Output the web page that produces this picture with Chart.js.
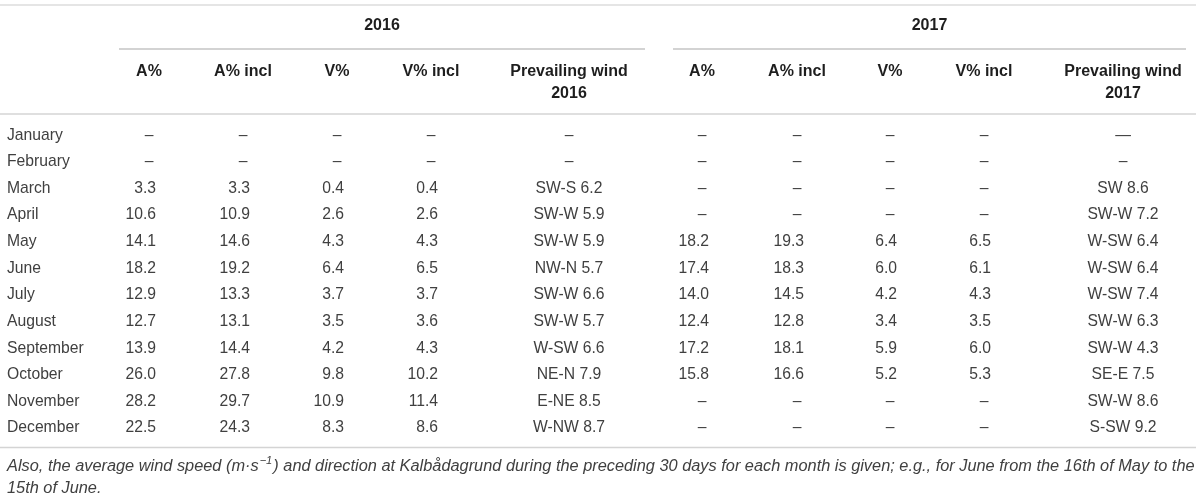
<!DOCTYPE html>
<html>
<head>
<meta charset="utf-8">
<script src="https://cdn.jsdelivr.net/npm/chart.js@4.4.1/dist/chart.umd.min.js"></script>
<style>
html, body { margin: 0; padding: 0; background: #fff; }
#wrap { width: 1200px; height: 499px; }
</style>
</head>
<body>
<div id="wrap"><canvas id="tbl" width="1200" height="499"></canvas></div>
<script>
// table rows
const MONTHS = ['January', 'February', 'March', 'April', 'May', 'June', 'July',
    'August', 'September', 'October', 'November', 'December'];

// 2016
const A_2016 = [null, null, 3.3, 10.6, 14.1, 18.2, 12.9, 12.7, 13.9, 26.0, 28.2, 22.5];
const A_INCL_2016 = [null, null, 3.3, 10.9, 14.6, 19.2, 13.3, 13.1, 14.4, 27.8, 29.7, 24.3];
const V_2016 = [null, null, 0.4, 2.6, 4.3, 6.4, 3.7, 3.5, 4.2, 9.8, 10.9, 8.3];
const V_INCL_2016 = [null, null, 0.4, 2.6, 4.3, 6.5, 3.7, 3.6, 4.3, 10.2, 11.4, 8.6];
const WIND_DIR_2016 = [null, null, 'SW-S', 'SW-W', 'SW-W', 'NW-N', 'SW-W', 'SW-W', 'W-SW', 'NE-N', 'E-NE', 'W-NW'];
const WIND_SPD_2016 = [null, null, 6.2, 5.9, 5.9, 5.7, 6.6, 5.7, 6.6, 7.9, 8.5, 8.7];

// 2017
const A_2017 = [null, null, null, null, 18.2, 17.4, 14.0, 12.4, 17.2, 15.8, null, null];
const A_INCL_2017 = [null, null, null, null, 19.3, 18.3, 14.5, 12.8, 18.1, 16.6, null, null];
const V_2017 = [null, null, null, null, 6.4, 6.0, 4.2, 3.4, 5.9, 5.2, null, null];
const V_INCL_2017 = [null, null, null, null, 6.5, 6.1, 4.3, 3.5, 6.0, 5.3, null, null];
const WIND_DIR_2017 = [null, null, 'SW', 'SW-W', 'W-SW', 'W-SW', 'W-SW', 'SW-W', 'SW-W', 'SE-E', 'SW-W', 'S-SW'];
const WIND_SPD_2017 = [null, null, 8.6, 7.2, 6.4, 6.4, 7.4, 6.3, 4.3, 7.5, 8.6, 9.2];

const YEARS = ['2016', '2017'];
const COL_HEADERS = ['A%', 'A% incl', 'V%', 'V% incl', 'Prevailing wind'];

const NOTE_1 = 'Also, the average wind speed (m\u00b7s';
const NOTE_SUP = '\u22121';
const NOTE_2 = ') and direction at Kalbådagrund during the preceding 30 days for each month is given; e.g., for June from the 16th of May to the';
const NOTE_3 = '15th of June.';

// layout (pixel centres of the columns on the x scale)
const COL_X = [149, 243, 337, 431, 569, 702, 797, 890, 984, 1123];
const GROUP_SPAN = [[119, 645], [673, 1186]];
const FONT = '"Liberation Sans", Arial, sans-serif';
const TEXT_COLOR = '#404040';
const HEAD_COLOR = '#1e1e1e';

// one dataset per table column; cell kind decides how the text is drawn
function numCol(values) {
    return { kind: 'num', cells: values };
}
function windCol(dirs, speeds) {
    return { kind: 'wind', cells: dirs.map((d, i) => d == null ? null : d + ' ' + speeds[i].toFixed(1)) };
}
const columns = [
    numCol(A_2016), numCol(A_INCL_2016), numCol(V_2016), numCol(V_INCL_2016),
    windCol(WIND_DIR_2016, WIND_SPD_2016),
    numCol(A_2017), numCol(A_INCL_2017), numCol(V_2017), numCol(V_INCL_2017),
    windCol(WIND_DIR_2017, WIND_SPD_2017)
];

const datasets = columns.map((col, c) => ({
    kind: col.kind,
    data: MONTHS.map((m, i) => ({ x: COL_X[c], y: i, v: col.cells[i] })),
    pointRadius: 0,
    showLine: false
}));

function hline(ctx, x1, x2, y, color, w) {
    ctx.strokeStyle = color;
    ctx.lineWidth = w;
    ctx.beginPath();
    ctx.moveTo(x1, y);
    ctx.lineTo(x2, y);
    ctx.stroke();
}

// draws the table text and rules on top of the (invisible) points
const tablePlugin = {
    id: 'tableText',
    afterDatasetsDraw(chart) {
        const ctx = chart.ctx;
        const ys = chart.scales.y;
        const area = chart.chartArea;
        ctx.save();
        ctx.textBaseline = 'middle';

        // rules
        hline(ctx, 0, 1196, 5, '#dcdcdc', 1.5);
        GROUP_SPAN.forEach(s => hline(ctx, s[0], s[1], 49, '#a8a8a8', 1.2));
        hline(ctx, 0, 1196, area.top - 8, '#d4d4d4', 1.5);
        hline(ctx, 0, 1196, area.bottom + 6, '#d4d4d4', 1.5);

        // year headers
        ctx.fillStyle = HEAD_COLOR;
        ctx.font = 'bold 16px ' + FONT;
        ctx.textAlign = 'center';
        YEARS.forEach((yr, g) => {
            ctx.fillText(yr, (GROUP_SPAN[g][0] + GROUP_SPAN[g][1]) / 2, 26);
        });

        // column headers
        COL_X.forEach((x, c) => {
            const h = COL_HEADERS[c % 5];
            ctx.fillText(h, x, 72);
            if (c % 5 === 4) ctx.fillText(YEARS[Math.floor(c / 5)], x, 94);
        });

        // month labels
        ctx.font = '15.7px ' + FONT;
        ctx.fillStyle = TEXT_COLOR;
        ctx.textAlign = 'left';
        MONTHS.forEach((m, i) => ctx.fillText(m, 7, ys.getPixelForValue(i)));

        // cells
        chart.data.datasets.forEach((ds, di) => {
            const meta = chart.getDatasetMeta(di);
            meta.data.forEach((pt, i) => {
                const v = ds.data[i].v;
                if (v == null) {
                    ctx.textAlign = 'center';
                    // the first wind 2017 cell uses a long dash
                    ctx.fillText(di === 9 && i === 0 ? '\u2014' : '\u2013', pt.x, pt.y);
                } else if (ds.kind === 'num') {
                    ctx.textAlign = 'right';
                    ctx.fillText(v.toFixed(1), pt.x + 7, pt.y);
                } else {
                    ctx.textAlign = 'center';
                    ctx.fillText(v, pt.x, pt.y);
                }
            });
        });

        // footnote, sized so the first line runs to the right edge
        ctx.textAlign = 'left';
        ctx.font = 'italic 16px ' + FONT;
        const w16 = ctx.measureText(NOTE_1 + NOTE_2).width;
        const size = 16 * (1186 - 12) / w16;
        const supSize = size * 0.68;
        let x = 7;
        const ny = area.bottom + 25;
        ctx.font = 'italic ' + size + 'px ' + FONT;
        ctx.fillText(NOTE_1, x, ny);
        x += ctx.measureText(NOTE_1).width + 1;
        ctx.font = 'italic ' + supSize + 'px ' + FONT;
        ctx.fillText(NOTE_SUP, x, ny - 5);
        x += ctx.measureText(NOTE_SUP).width + 1;
        ctx.font = 'italic ' + size + 'px ' + FONT;
        ctx.fillText(NOTE_2, x, ny);
        ctx.fillText(NOTE_3, 7, ny + 22);

        ctx.restore();
    }
};

new Chart(document.getElementById('tbl'), {
    type: 'scatter',
    data: { datasets: datasets },
    options: {
        responsive: false,
        animation: false,
        events: [],
        layout: { padding: { top: 122, bottom: 57.6, left: 0, right: 0 } },
        scales: {
            x: { type: 'linear', min: 0, max: 1200, display: false },
            y: { type: 'category', labels: MONTHS, offset: true, display: false }
        },
        plugins: {
            legend: { display: false },
            tooltip: { enabled: false }
        }
    },
    plugins: [tablePlugin]
});
</script>
</body>
</html>
